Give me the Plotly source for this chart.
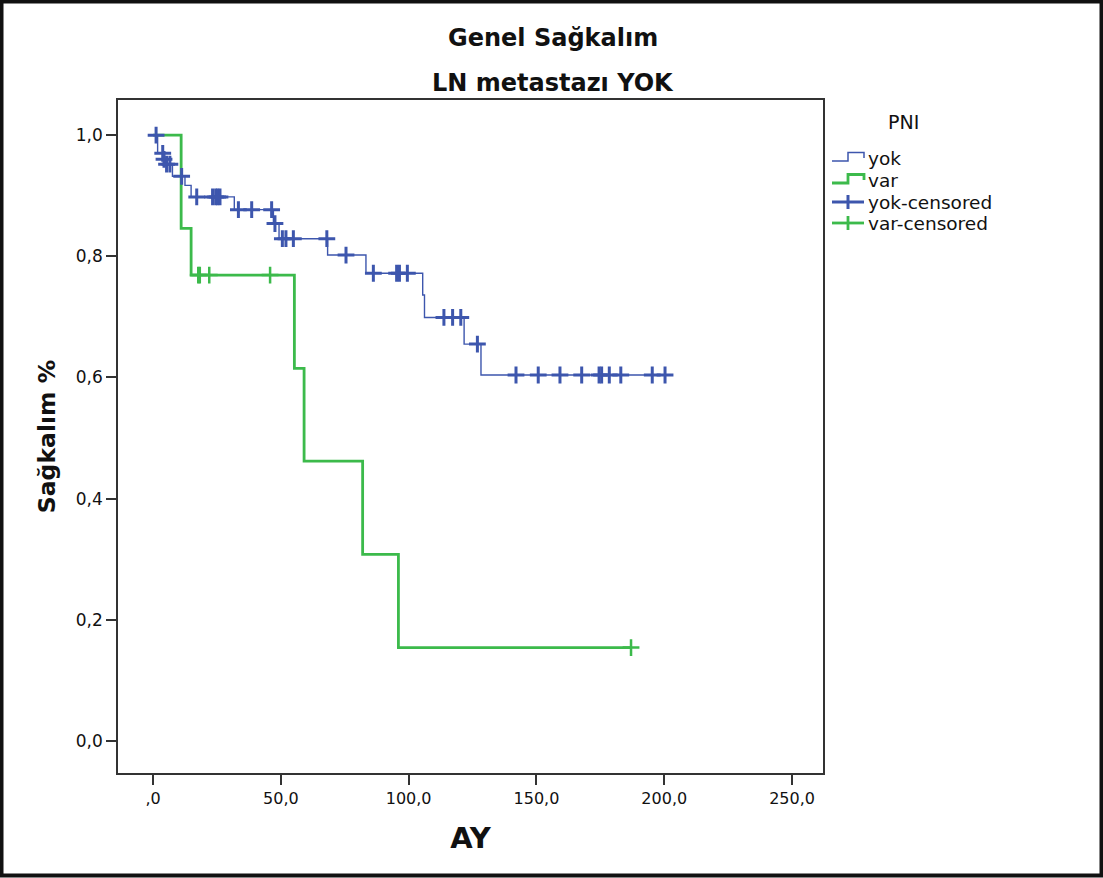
import plotly.graph_objects as go

# ---- data ----
yok_time = [0, 1.8, 4.0, 5.0, 7.6, 12.5, 14.9, 31.8, 47.1, 49.3, 68.3, 83.3, 105.5, 106.2, 121.7, 128.3, 200.3]
yok_surv = [1.0, 0.970, 0.960, 0.952, 0.932, 0.917, 0.898, 0.877, 0.854, 0.829, 0.802, 0.772, 0.736, 0.699, 0.655, 0.604, 0.604]

yok_cens_time = [1.2, 3.8, 4.3, 5.3, 6.6, 11.2, 17.1, 23.3, 24.5, 25.3, 26.2, 33.4, 38.6, 46.4, 47.7,
                 50.6, 52.0, 54.9, 68.0, 75.5, 86.2, 95.3, 96.4, 99.5, 113.8, 117.2, 120.4, 126.9,
                 142.0, 150.7, 159.2, 167.7, 174.5, 175.5, 178.5, 183.0, 195.3, 200.3]
yok_cens_surv = [1.0, 0.970, 0.960, 0.952, 0.952, 0.932, 0.898, 0.898, 0.898, 0.898, 0.898, 0.877, 0.877, 0.877, 0.854,
                 0.829, 0.829, 0.829, 0.829, 0.802, 0.772, 0.772, 0.772, 0.772, 0.699, 0.699, 0.699, 0.655,
                 0.604, 0.604, 0.604, 0.604, 0.604, 0.604, 0.604, 0.604, 0.604, 0.604]

var_time = [0, 11.0, 14.9, 55.3, 59.1, 82.0, 96.0, 187.0]
var_surv = [1.0, 0.846, 0.769, 0.615, 0.462, 0.308, 0.154, 0.154]
var_cens_time = [17.7, 18.3, 22.0, 45.8, 187.0]
var_cens_surv = [0.769, 0.769, 0.769, 0.769, 0.154]

x_tickvals = [0, 50, 100, 150, 200, 250]
x_ticktext = [",0", "50,0", "100,0", "150,0", "200,0", "250,0"]
y_tickvals = [0.0, 0.2, 0.4, 0.6, 0.8, 1.0]
y_ticktext = ["0,0", "0,2", "0,4", "0,6", "0,8", "1,0"]

legend_title = "PNI"
legend_labels = ["yok", "var", "yok-censored", "var-censored"]

BLUE = "#3d56ad"
GREEN = "#3cba4b"
FONT = "DejaVu Sans"
TXT = "#111111"

W, H = 1103, 878
ML, MR, MT, MB = 118, 280, 100, 105
PW, PH = W - ML - MR, H - MT - MB


def px_x(px):
    return (px - ML) / PW


def px_y(py):
    return (H - MB - py) / PH


fig = go.Figure()
fig.add_trace(go.Scatter(x=yok_time, y=yok_surv, mode="lines", name="yok",
                         line=dict(color=BLUE, width=1.4, shape="hv")))
fig.add_trace(go.Scatter(x=var_time, y=var_surv, mode="lines", name="var",
                         line=dict(color=GREEN, width=2.8, shape="hv")))
fig.add_trace(go.Scatter(x=yok_cens_time, y=yok_cens_surv, mode="markers", name="yok-censored",
                         marker=dict(symbol="cross-thin", size=12, color=BLUE,
                                     line=dict(color=BLUE, width=3))))
fig.add_trace(go.Scatter(x=var_cens_time, y=var_cens_surv, mode="markers", name="var-censored",
                         marker=dict(symbol="cross-thin", size=12, color=GREEN,
                                     line=dict(color=GREEN, width=2.5))))

fig.update_xaxes(range=[-13.7, 262.1], tickvals=x_tickvals, ticktext=x_ticktext,
                 showgrid=False, zeroline=False, showline=True, mirror=True,
                 linecolor="#333333", linewidth=1.5, ticks="outside", ticklen=10,
                 tickwidth=1.5, tickcolor="#333333",
                 tickfont=dict(family=FONT, size=16, color=TXT),
                 title=dict(text="<b>AY</b>", font=dict(family=FONT, size=29, color=TXT),
                            standoff=21))
fig.update_yaxes(range=[-0.053, 1.058], tickvals=y_tickvals, ticktext=y_ticktext,
                 showgrid=False, zeroline=False, showline=True, mirror=True,
                 linecolor="#333333", linewidth=1.5, ticks="outside", ticklen=10,
                 tickwidth=1.5, tickcolor="#333333",
                 tickfont=dict(family=FONT, size=17, color=TXT),
                 title=dict(text="<b>Sağkalım %</b>", font=dict(family=FONT, size=23.5, color=TXT),
                            standoff=14))

# titles
fig.add_annotation(text="<b>Genel Sağkalım</b>", xref="paper", yref="paper",
                   x=px_x(553), y=px_y(38), showarrow=False,
                   font=dict(family=FONT, size=24, color=TXT), xanchor="center", yanchor="middle")
fig.add_annotation(text="<b>LN metastazı YOK</b>", xref="paper", yref="paper",
                   x=px_x(553), y=px_y(83), showarrow=False,
                   font=dict(family=FONT, size=24, color=TXT), xanchor="center", yanchor="middle")

# ---- legend drawn by hand (step icons as in the reference) ----
fig.add_annotation(text=legend_title, xref="paper", yref="paper", x=px_x(903), y=px_y(122),
                   showarrow=False, font=dict(family=FONT, size=19, color=TXT),
                   xanchor="center", yanchor="middle")
row_y = [158, 180, 202, 223]
colors = [BLUE, GREEN, BLUE, GREEN]
widths = [1.5, 2.8, 3, 2.8]
for i, (lab, ry, c, w) in enumerate(zip(legend_labels, row_y, colors, widths)):
    fig.add_annotation(text=lab, xref="paper", yref="paper", x=px_x(866), y=px_y(ry),
                       showarrow=False, font=dict(family=FONT, size=18.5, color=TXT),
                       xanchor="left", yanchor="middle")
    if i < 2:
        path = (f"M {px_x(832)} {px_y(ry + 3)} L {px_x(848)} {px_y(ry + 3)} "
                f"L {px_x(848)} {px_y(ry - 5.5)} L {px_x(864)} {px_y(ry - 5.5)} "
                f"L {px_x(864)} {px_y(ry)}")
        fig.add_shape(type="path", xref="paper", yref="paper", path=path,
                      line=dict(color=c, width=w))
    else:
        fig.add_shape(type="line", xref="paper", yref="paper",
                      x0=px_x(832), x1=px_x(864), y0=px_y(ry), y1=px_y(ry),
                      line=dict(color=c, width=w))
        fig.add_shape(type="line", xref="paper", yref="paper",
                      x0=px_x(848), x1=px_x(848), y0=px_y(ry - 7), y1=px_y(ry + 7),
                      line=dict(color=c, width=w))

# outer frame of the image
fig.add_shape(type="rect", xref="paper", yref="paper",
              x0=px_x(1.5), x1=px_x(W - 1.5), y0=px_y(H - 2.5), y1=px_y(1.5),
              line=dict(color=TXT, width=4), layer="above")

fig.update_layout(
    width=W, height=H,
    margin=dict(l=ML, r=MR, t=MT, b=MB, autoexpand=False),
    paper_bgcolor="white", plot_bgcolor="white",
    showlegend=False,
)

fig.write_html("out.html")
